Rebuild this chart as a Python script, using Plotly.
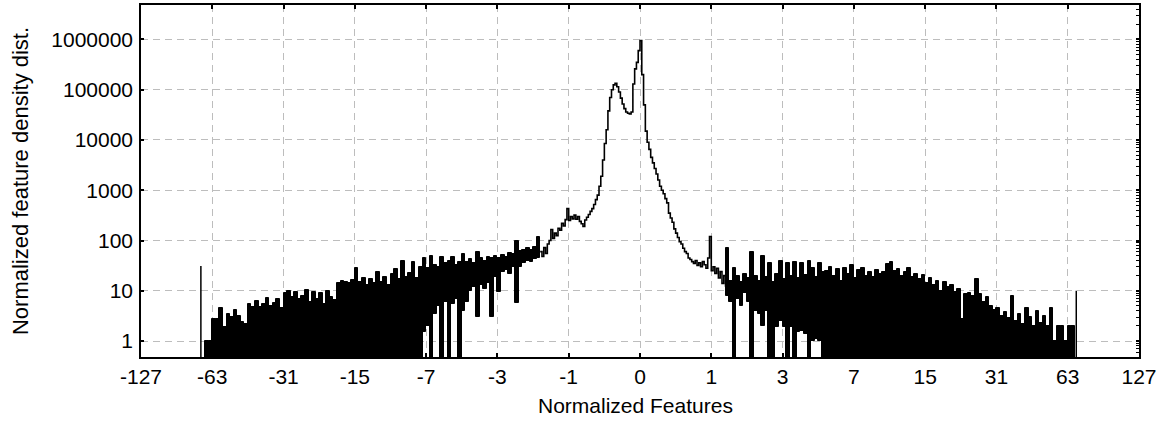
import numpy as np
import plotly.graph_objects as go

# ---------------- axis definitions ----------------
# x axis shows features on a signed log2 scale: position = sign(f) * log2(|f| + 1)
tick_pos = [-7, -6, -5, -4, -3, -2, -1, 0, 1, 2, 3, 4, 5, 6, 7]
tick_text = ["-127", "-63", "-31", "-15", "-7", "-3", "-1", "0",
             "1", "3", "7", "15", "31", "63", "127"]
y_tick_vals = [1, 10, 100, 1000, 10000, 100000, 1000000]
y_tick_text = ["1", "10", "100", "1000", "10000", "100000", "1000000"]
x_title = "Normalized Features"
y_title = "Normalized feature density dist."

FLOOR = 0.1          # empty bins (below the visible range)
BIN = 0.05           # histogram bin width in axis units
CORE_STEP = 0.025    # resolution of the central (dense) part

# ---------------- data ----------------
# left tail (bins filled from the floor), first bin starts at -6.1
left_outer_start = -6.1
left_outer_hi = [1.0, 1.0, 2.8, 2.8, 4.5, 1.9, 3.5, 3.0, 4.2, 3.2,
                 2.4, 2.2, 5.5, 4.8, 6.3, 4.8, 5.5, 7.3, 5.0, 5.6,
                 7.0, 4.5, 9.0, 10, 7.5, 9.5, 6.8, 8.0, 10.5, 6.0,
                 9.5, 7.0, 9.0, 5.5, 10, 7.5, 6.5, 14, 16, 15,
                 14, 16.5, 28, 15, 18, 13, 17, 14, 24, 15,
                 19, 13, 22, 27, 17, 40, 19, 23, 38, 18]

# left noisy band (min / max per bin), first bin starts at -3.1
left_band_start = -3.1
left_band_lo = [0.1, 1.5, 2.0, 0.1, 3.5, 5.0, 0.1, 6.0, 0.1, 5.5,
                7.0, 0.1, 4.0, 6.0, 10, 12, 3.0, 13, 11, 14,
                3.0, 19, 9.5, 24, 26, 22, 30, 5.7, 30, 35,
                40, 38, 42, 45]
left_band_hi = [30, 45, 28, 50, 32, 30, 47, 35, 40, 47,
                33, 38, 55, 37, 42, 36, 58, 45, 40, 48,
                44, 50, 45, 52, 48, 56, 55, 100, 62, 65,
                70, 66, 75, 118]

# central part, drawn as a stepped line from -1.4 to 1.2
core_start = -1.4
core_vals = [60, 48, 72, 55, 85, 100, 165, 110, 140, 125,
             175, 160, 220, 195, 260, 430, 250, 300, 270, 320,
             265, 300, 240, 215, 190, 255, 290, 330, 380, 430,
             520, 650, 800, 1200, 1900, 4000, 8500, 16000, 38000, 70000,
             100000, 125000, 135000, 115000, 90000, 68000, 52000, 42000, 36000, 34000,
             33000, 36000, 130000, 260000, 350000, 600000, 950000, 200000, 50000, 15000,
             9000, 6500, 4500, 3500, 2700, 2100, 1600, 1200, 1000, 850,
             680, 560, 350, 280, 230, 170, 140, 115, 95, 85,
             70, 60, 55, 45, 42, 38, 35, 40, 32, 36,
             30, 38, 33, 28, 45, 120, 25, 30, 22, 28,
             18, 24, 14, 20, 12]

# right noisy band, first bin starts at 1.2
right_band_start = 1.2
right_band_lo = [8, 6, 0.1, 7, 5, 9, 6, 0.1, 4, 3.5,
                 2, 4, 0.1, 0.1, 1.9, 2.5, 1.9, 0.1, 1.9, 0.1,
                 1.5, 1.6, 1.4, 0.1, 1.0, 1.1, 1.0, 0.1]
right_band_hi = [70, 16, 28, 20, 15, 22, 18, 60, 20, 16,
                 50, 19, 35, 15, 22, 40, 17, 35, 20, 37,
                 18, 36, 21, 40, 28, 19, 35, 24]

# right tail (bins filled from the floor), first bin starts at 2.6
right_outer_start = 2.6
right_outer_hi = [25, 30, 20, 27, 16, 28, 22, 32, 18, 26,
                  29, 20, 24, 19, 26, 22, 24, 34, 38, 25,
                  27, 20, 24, 28, 19, 22, 17, 21, 14, 18,
                  13, 16, 10, 15, 12, 13, 9.5, 11, 2.8, 8.5,
                  9, 8, 17, 8.5, 6, 7.5, 5, 4.2, 4.5, 3.2,
                  3.8, 2.9, 7.8, 2.5, 3.5, 2.2, 4.6, 3, 2, 4,
                  2.3, 3.2, 2, 4.6, 1.0, 2.0, 2.0, 1.0, 2.0, 2.0]

# isolated extreme bins
spike_pos = [-6.16, 6.12]
spike_val = [31, 10]


def centers(start, n):
    return np.round(start + BIN * (np.arange(n) + 0.5), 5)


bx, blo, bhi = [], [], []
for start, lo, hi in [
    (left_outer_start, [FLOOR] * len(left_outer_hi), left_outer_hi),
    (left_band_start, left_band_lo, left_band_hi),
    (right_band_start, right_band_lo, right_band_hi),
    (right_outer_start, [FLOOR] * len(right_outer_hi), right_outer_hi),
]:
    bx += list(centers(start, len(hi)))
    blo += list(lo)
    bhi += list(hi)

blo = np.array(blo, dtype=float)
bhi = np.array(bhi, dtype=float)

fig = go.Figure()

fig.add_trace(go.Bar(
    x=bx, y=bhi - blo, base=blo, width=BIN,
    marker=dict(color="black", line=dict(color="black", width=1)),
    hoverinfo="skip",
))

core_x = np.round(core_start + CORE_STEP * np.arange(len(core_vals)), 5)
fig.add_trace(go.Scatter(
    x=core_x, y=core_vals, mode="lines",
    line=dict(color="black", width=1.6, shape="hv"),
    hoverinfo="skip",
))

sx, sy = [], []
for p, v in zip(spike_pos, spike_val):
    sx += [p, p, None]
    sy += [FLOOR, v, None]
fig.add_trace(go.Scatter(
    x=sx, y=sy, mode="lines", yaxis="y2",
    line=dict(color="black", width=1.5),
    hoverinfo="skip",
))

yrange = [-0.318, 6.686]
minor_vals = [m * 10 ** k for k in range(-1, 7) for m in range(2, 10)]

grid = dict(showgrid=True, gridcolor="#bdbdbd", gridwidth=1, griddash="7px,5px")

fig.update_layout(
    width=1162, height=421,
    margin=dict(l=141, r=23, t=5, b=64, autoexpand=False),
    paper_bgcolor="white", plot_bgcolor="white",
    showlegend=False, bargap=0, barmode="overlay",
    font=dict(family="Liberation Sans, Arial, sans-serif", size=21, color="black"),
    xaxis=dict(
        range=[-7, 7], tickmode="array", tickvals=tick_pos, ticktext=tick_text,
        zeroline=False, showline=True, linecolor="black", linewidth=1.5,
        mirror="ticks", ticks="inside", ticklen=4, tickwidth=1.5, tickcolor="black",
        automargin=False,
        **grid,
    ),
    yaxis=dict(
        type="log", range=yrange, tickmode="array",
        tickvals=y_tick_vals, ticktext=y_tick_text,
        showline=True, linecolor="black", linewidth=1.5, mirror="ticks",
        ticks="inside", ticklen=3, tickwidth=2, tickcolor="black",
        ticklabelstandoff=2, automargin=False,
        **grid,
    ),
    yaxis2=dict(
        type="log", range=yrange, overlaying="y", side="right",
        tickmode="array", tickvals=minor_vals, showticklabels=False,
        ticks="inside", ticklen=3, tickwidth=1, tickcolor="black",
        showgrid=False, showline=False, zeroline=False, automargin=False,
    ),
    annotations=[
        dict(text=x_title, xref="paper", yref="paper", x=0.495, y=-0.139,
             xanchor="center", yanchor="middle", showarrow=False,
             font=dict(size=21)),
        dict(text=y_title, xref="paper", yref="paper", x=-0.1212, y=0.5,
             xanchor="center", yanchor="middle", textangle=-90, showarrow=False,
             font=dict(size=22)),
    ],
)

fig.write_html("out.html", config={"displayModeBar": False},
               post_script="document.body.style.margin='0px';")
